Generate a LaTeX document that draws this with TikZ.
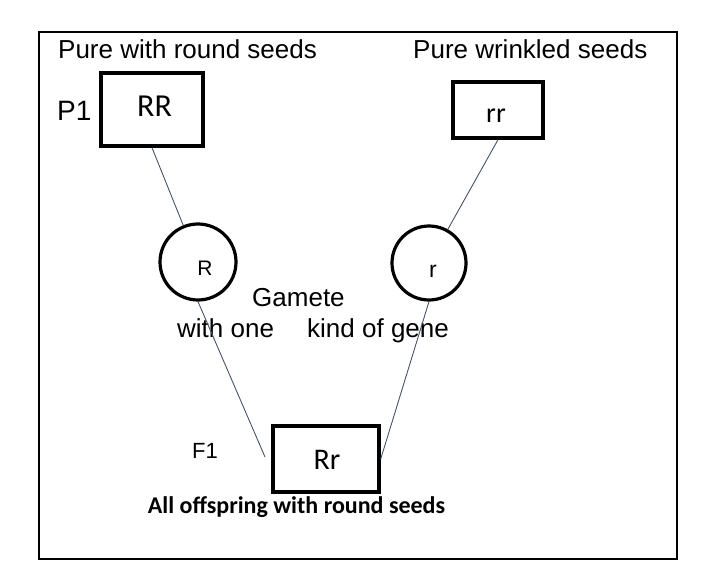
\documentclass[tikz,border=0pt]{standalone}
\usepackage{fontspec}
\setmainfont{Liberation Sans}
\newfontfamily\calib{Carlito}
\definecolor{linkc}{RGB}{68,84,106}
\begin{document}
\begin{tikzpicture}[x=1pt,y=-1pt,
  gbox/.style={draw=black,line width=3.4pt,rectangle,inner sep=0pt},
  gcirc/.style={draw=black,line width=3.2pt,circle,inner sep=0pt},
  lbl/.style={font=\fontsize{26}{28}\selectfont,inner sep=0pt,anchor=base west},
  ctext/.style={font=\calib\fontsize{28}{30}\selectfont,inner sep=0pt},
  link/.style={draw=linkc,line width=0.9pt}]
\useasboundingbox (0,0) rectangle (720,585);
\draw[line width=1.3pt] (39,32) rectangle (677,559);
% boxes
\node[gbox,minimum width=102pt,minimum height=73pt] (RR) at (152,109.5) {};
\node[gbox,minimum width=90pt,minimum height=56pt] (rr) at (498,110) {};
\node[gbox,minimum width=106pt,minimum height=66pt] (Rr) at (326,459) {};
\node[ctext,font=\calib\fontsize{32}{34}\selectfont] (RRt) at (154.5,106) {RR};
\node[ctext] (rrt) at (496,116) {rr};
\node[ctext,font=\calib\fontsize{30}{32}\selectfont] (Rrt) at (327,460) {Rr};
% gametes
\node[gcirc,minimum size=76pt] (Rc) at (198,262) {};
\node[gcirc,minimum size=74pt] (rc) at (429,263) {};
\node[font=\fontsize{21}{23}\selectfont,inner sep=0pt] (Rct) at (205,268.5) {R};
\node[font=\fontsize{23}{25}\selectfont,inner sep=0pt] (rct) at (433,271) {r};
% labels
\node[lbl] (t1) at (58,59) {Pure with round seeds};
\node[lbl] (t2) at (413,59) {Pure wrinkled seeds};
\node[lbl,font=\fontsize{28}{30}\selectfont] (p1) at (57,121) {P1};
\node[lbl] (g1) at (252,307) {Gamete};
\node[lbl] (g2) at (177,337) {with one};
\node[lbl] (g3) at (307,337) {kind of gene};
\node[lbl,font=\fontsize{22}{24}\selectfont] (f1) at (192,458) {F1};
\node[font=\calib\bfseries\fontsize{24}{26}\selectfont,inner sep=0pt,anchor=base] (all) at (296.5,513) {All offspring with round seeds};
% connectors
\coordinate (fend) at (265,457);
\draw[link] (RR.south) -- (Rc);
\draw[link] (Rc.south) -- (fend);
\draw[link] (rr.south) -- (rc);
\draw[link] (rc.south) -- (Rr.east);
\end{tikzpicture}
\end{document}
